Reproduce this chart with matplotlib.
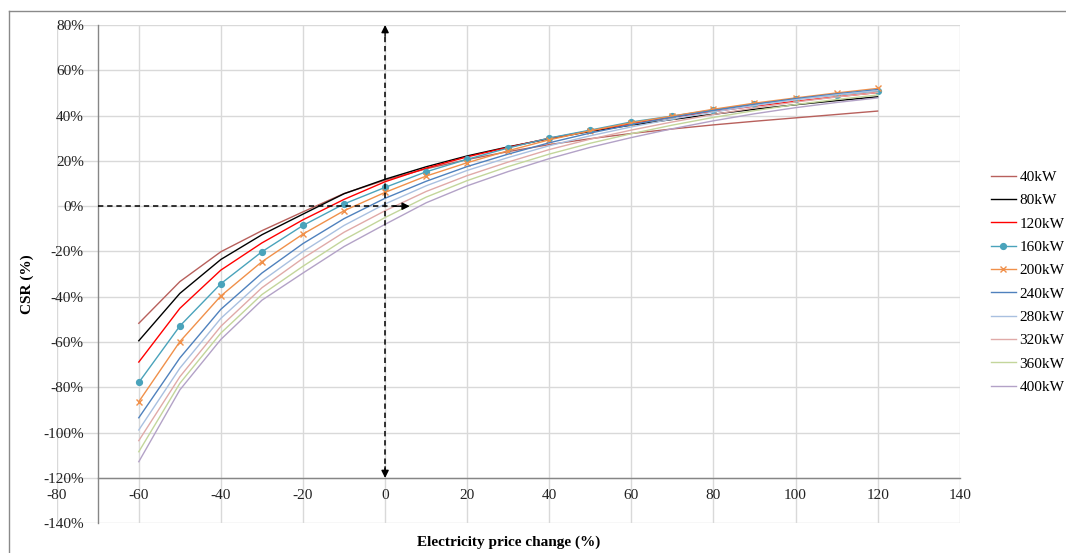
import matplotlib
matplotlib.use("Agg")
import matplotlib.pyplot as plt
from matplotlib.lines import Line2D
from matplotlib.ticker import FuncFormatter

plt.rcParams['font.family'] = ['Liberation Serif', 'DejaVu Serif']

# Electricity price change (%)
price_change = [-60, -50, -40, -30, -20, -10, 0, 10, 20, 30, 40, 50, 60, 70, 80, 90, 100, 110, 120]

# CSR (%) per PV capacity
csr_40kw = [-51.7, -33.3, -20.1, -10.8, -2.5, 5.6, 11.5, 16.5, 20.6, 24.1, 27.2, 29.8, 32.1, 34.1, 35.9, 37.5, 39.0, 40.5, 42.0]
csr_80kw = [-59.4, -38.5, -23.5, -12.6, -3.5, 5.5, 11.9, 17.4, 22.2, 26.2, 29.8, 33.0, 35.8, 38.3, 40.6, 42.8, 44.8, 46.6, 48.3]
csr_120kw = [-68.8, -45.1, -28.2, -16.2, -6.0, 3.0, 10.8, 16.8, 21.8, 26.0, 30.0, 33.3, 36.5, 39.3, 41.8, 44.2, 46.3, 48.3, 50.2]
csr_160kw = [-77.8, -52.9, -34.2, -20.1, -8.5, 1.0, 8.3, 15.2, 20.7, 25.7, 30.1, 33.6, 37.2, 39.8, 42.5, 45.1, 47.3, 49.1, 50.9]
csr_200kw = [-86.3, -59.8, -39.6, -24.5, -12.3, -2.0, 6.1, 13.3, 19.2, 24.5, 29.3, 33.3, 36.8, 39.8, 42.8, 45.5, 47.8, 50.0, 52.0]
csr_240kw = [-93.4, -67.0, -45.5, -29.5, -16.5, -5.5, 3.5, 11.0, 17.5, 23.0, 28.0, 32.3, 36.0, 39.3, 42.3, 45.0, 47.5, 49.6, 51.5]
csr_280kw = [-98.8, -71.5, -49.5, -33.0, -20.0, -8.5, 1.0, 9.0, 15.8, 21.5, 26.7, 31.1, 35.0, 38.5, 41.6, 44.4, 47.0, 49.2, 51.0]
csr_320kw = [-103.5, -75.3, -53.0, -36.0, -23.0, -11.5, -2.0, 6.5, 13.5, 19.5, 25.0, 29.6, 33.6, 37.2, 40.5, 43.4, 46.0, 48.2, 50.2]
csr_360kw = [-108.4, -78.2, -56.0, -39.0, -26.5, -14.8, -5.0, 4.0, 11.3, 17.5, 23.0, 27.8, 32.0, 35.8, 39.2, 42.2, 44.9, 47.1, 49.1]
csr_400kw = [-112.8, -81.1, -58.8, -41.5, -29.5, -17.8, -8.0, 1.5, 9.0, 15.3, 21.0, 26.0, 30.3, 34.2, 37.7, 40.8, 43.5, 45.8, 47.8]

series_labels = ['40kW', '80kW', '120kW', '160kW', '200kW', '240kW', '280kW', '320kW', '360kW', '400kW']
series_values = [csr_40kw, csr_80kw, csr_120kw, csr_160kw, csr_200kw,
                 csr_240kw, csr_280kw, csr_320kw, csr_360kw, csr_400kw]
series_colors = ['#b8605c', '#000000', '#ff0000', '#4aa3bb', '#f0904a',
                 '#4f81bd', '#a9c0e0', '#e0aaa8', '#c3d69b', '#b3a2c7']
series_markers = [None, None, None, 'o', 'x', None, None, None, None, None]

x_ticks = list(range(-80, 141, 20))
y_ticks = list(range(-140, 81, 20))

fig = plt.figure(figsize=(10.66, 5.53), dpi=100)
ax = fig.add_axes([0.0532, 0.0537, 0.8471, 0.9011])

handles = []
for vals, lab, col, mk in zip(series_values, series_labels, series_colors, series_markers):
    h, = ax.plot(price_change, vals, color=col, lw=1.0, label=lab,
                 marker=mk, markersize=4.2 if mk == 'o' else 4.5,
                 markeredgewidth=1.0, zorder=3)
    handles.append(h)

ax.set_xlim(-80, 140)
ax.set_ylim(-140, 80)
ax.set_xticks(x_ticks)
ax.set_yticks(y_ticks)
ax.xaxis.set_major_formatter(FuncFormatter(lambda v, p: f"{int(v)}"))
ax.yaxis.set_major_formatter(FuncFormatter(lambda v, p: f"{int(v)}%"))
ax.grid(True, color='#d9d9d9', lw=1.0, zorder=0)
ax.set_axisbelow(True)

for side in ('top', 'right'):
    ax.spines[side].set_visible(False)
ax.spines['left'].set_position(('data', -70))
ax.spines['left'].set_bounds(-140, 80)
ax.spines['bottom'].set_position(('data', -120))
ax.spines['bottom'].set_bounds(-70, 140)
for side in ('left', 'bottom'):
    ax.spines[side].set_color('#868686')
    ax.spines[side].set_linewidth(1.0)
ax.tick_params(axis='both', length=0, labelsize=11, colors='#222222')
ax.tick_params(axis='y', pad=10)
ax.tick_params(axis='x', pad=8)

ax.set_xlabel('Electricity price change (%)', fontsize=11, fontweight='bold')
ax.xaxis.set_label_coords(0.5, -0.025)
ax.set_ylabel('CSR (%)', fontsize=11, fontweight='bold')
ax.yaxis.set_label_coords(-0.025, 0.48)

# Dashed guide arrows at zero price change and zero CSR
ax.plot([0, 0], [-118, 78], color='black', lw=1.1, ls=(0, (3.5, 2.5)), zorder=4)
ax.plot([-70, 4], [0, 0], color='black', lw=1.1, ls=(0, (3.5, 2.5)), zorder=4)
arrow_kw = dict(arrowstyle='-|>', color='black', lw=1.0, mutation_scale=11, shrinkA=0, shrinkB=0)
ax.annotate('', xy=(0, 80), xytext=(0, 75), arrowprops=arrow_kw, zorder=5)
ax.annotate('', xy=(0, -120), xytext=(0, -115), arrowprops=arrow_kw, zorder=5)
ax.annotate('', xy=(6, 0), xytext=(2, 0), arrowprops=arrow_kw, zorder=5)

fig.legend(handles=handles, loc='upper left', bbox_to_anchor=(0.9297, 0.692),
           frameon=False, fontsize=11, handlelength=1.6, handletextpad=0.25,
           labelspacing=0.63, borderpad=0, borderaxespad=0)

# Chart frame
frame_kw = dict(color='#8a8a8a', lw=1.0, transform=fig.transFigure)
fig.add_artist(Line2D([0.0089, 1.0], [0.981, 0.981], **frame_kw))
fig.add_artist(Line2D([0.0089, 0.0089], [0.0, 0.981], **frame_kw))

fig.savefig('out.png', dpi=100)
